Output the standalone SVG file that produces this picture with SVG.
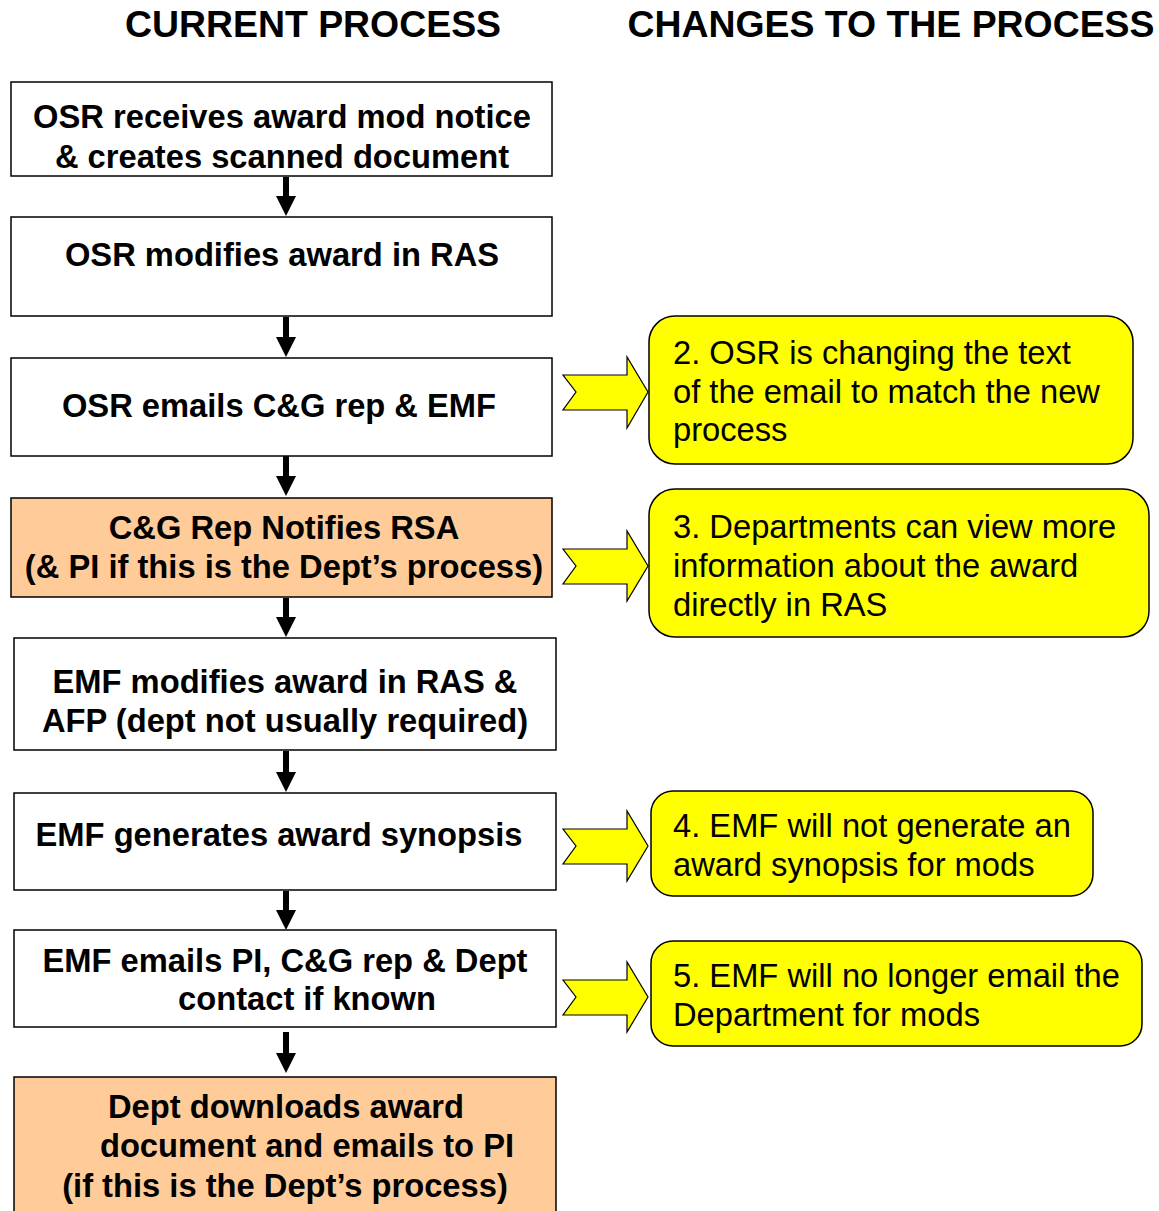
<svg xmlns="http://www.w3.org/2000/svg" width="1159" height="1211" viewBox="0 0 1159 1211">
<style>
.box{fill:#FFFFFF;stroke:#000;stroke-width:1.5}
.org{fill:#FFCC99;stroke:#000;stroke-width:1.5}
.call{fill:#FFFF00;stroke:#000;stroke-width:1.5}
.blk{fill:#FFFF00;stroke:#000;stroke-width:1.2;stroke-linejoin:miter}
.arr{fill:#000;stroke:none}
.b{font-family:"Liberation Sans",Arial,sans-serif;font-weight:bold;font-size:32.7px;fill:#000;text-anchor:middle}
.r{font-family:"Liberation Sans",Arial,sans-serif;font-size:32.7px;fill:#000}
.h{font-family:"Liberation Sans",Arial,sans-serif;font-weight:bold;font-size:37.4px;fill:#000;text-anchor:middle}
</style>
<rect width="1159" height="1211" fill="#FFFFFF"/>
<g id="headers">
<text class="h" x="313" y="37">CURRENT PROCESS</text>
<text class="h" x="891" y="37">CHANGES TO THE PROCESS</text>
</g>
<g id="connectors">
<polygon class="arr" points="283,177 289,177 289,196 296,196 286,216 276,196 283,196"/>
<polygon class="arr" points="283,317 289,317 289,337 296,337 286,357 276,337 283,337"/>
<polygon class="arr" points="283,452 289,452 289,476 296,476 286,496 276,476 283,476"/>
<polygon class="arr" points="283,598 289,598 289,617 296,617 286,637 276,617 283,617"/>
<polygon class="arr" points="283,751 289,751 289,772 296,772 286,792 276,772 283,772"/>
<polygon class="arr" points="283,891 289,891 289,910 296,910 286,930 276,910 283,910"/>
<polygon class="arr" points="283,1032 289,1032 289,1053 296,1053 286,1073 276,1053 283,1053"/>
<polygon class="blk" points="563,375 627,375 627,357 648,392 627,428 627,410 563,410 576,392"/>
<polygon class="blk" points="563,549 627,549 627,531 648,566 627,601 627,584 563,584 576,566"/>
<polygon class="blk" points="563,829 627,829 627,811 648,846 627,881 627,864 563,864 576,846"/>
<polygon class="blk" points="563,980 627,980 627,962 648,997 627,1032 627,1015 563,1015 576,997"/>
</g>
<g id="n1"><rect class="box" x="11" y="82" width="541" height="94"/>
<text class="b" x="282" y="128">OSR receives award mod notice</text>
<text class="b" x="282" y="168">&amp; creates scanned document</text></g>
<g id="n2"><rect class="box" x="11" y="217" width="541" height="99"/>
<text class="b" x="282" y="266">OSR modifies award in RAS</text></g>
<g id="n3"><rect class="box" x="11" y="358" width="541" height="98"/>
<text class="b" x="279" y="417">OSR emails C&amp;G rep &amp; EMF</text></g>
<g id="n4"><rect class="org" x="11" y="498" width="541" height="99"/>
<text class="b" x="284" y="539">C&amp;G Rep Notifies RSA</text>
<text class="b" x="284" y="578">(&amp; PI if this is the Dept’s process)</text></g>
<g id="n5"><rect class="box" x="14" y="638" width="542" height="112"/>
<text class="b" x="285" y="693">EMF modifies award in RAS &amp;</text>
<text class="b" x="285" y="732">AFP (dept not usually required)</text></g>
<g id="n6"><rect class="box" x="14" y="793" width="542" height="97"/>
<text class="b" x="279" y="846">EMF generates award synopsis</text></g>
<g id="n7"><rect class="box" x="14" y="930" width="542" height="97"/>
<text class="b" x="285" y="972">EMF emails PI, C&amp;G rep &amp; Dept</text>
<text class="b" x="307" y="1010">contact if known</text></g>
<g id="n8"><rect class="org" x="14" y="1077" width="542" height="140"/>
<text class="b" x="286" y="1118">Dept downloads award</text>
<text class="b" x="307" y="1157">document and emails to PI</text>
<text class="b" x="285" y="1197">(if this is the Dept’s process)</text></g>
<g id="c2"><rect class="call" x="649" y="316" width="484" height="148" rx="26"/>
<text class="r" x="673" y="364">2. OSR is changing the text</text>
<text class="r" x="673" y="403">of the email to match the new</text>
<text class="r" x="673" y="441">process</text></g>
<g id="c3"><rect class="call" x="649" y="489" width="500" height="148" rx="26"/>
<text class="r" x="673" y="538">3. Departments can view more</text>
<text class="r" x="673" y="577">information about the award</text>
<text class="r" x="673" y="616">directly in RAS</text></g>
<g id="c4"><rect class="call" x="651" y="791" width="442" height="105" rx="22"/>
<text class="r" x="673" y="837">4. EMF will not generate an</text>
<text class="r" x="673" y="876">award synopsis for mods</text></g>
<g id="c5"><rect class="call" x="651" y="941" width="491" height="105" rx="22"/>
<text class="r" x="673" y="987">5. EMF will no longer email the</text>
<text class="r" x="673" y="1026">Department for mods</text></g>
</svg>
